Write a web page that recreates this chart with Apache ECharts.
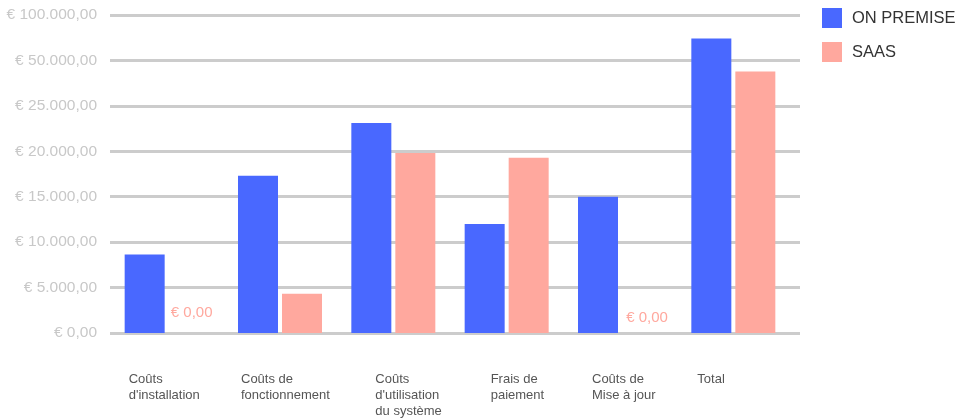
<!DOCTYPE html>
<html><head><meta charset="utf-8">
<script src="https://cdn.jsdelivr.net/npm/echarts@6/dist/echarts.min.js"></script>
<style>html,body{margin:0;padding:0;background:#fff}#c{width:969px;height:418px}</style>
</head><body><div id="c"></div>
<script>
var categories = ["Coûts\nd'installation", "Coûts de\nfonctionnement", "Coûts\nd'utilisation\ndu système", "Frais de\npaiement", "Coûts de\nMise à jour", "Total"];
var onPremise = [8650, 17300, 23100, 12000, 15000, 74000];
var saas = [0, 4330, 19800, 19300, 0, 43900];
var tickValues = [0, 5000, 10000, 15000, 20000, 25000, 50000, 100000];
var tickLabels = ["€ 0,00", "€ 5.000,00", "€ 10.000,00", "€ 15.000,00", "€ 20.000,00", "€ 25.000,00", "€ 50.000,00", "€ 100.000,00"];
var seriesNames = ["ON PREMISE", "SAAS"];

// piecewise scale: the axis places the listed tick values evenly
function toAxis(v) {
  for (var i = 1; i < tickValues.length; i++) {
    if (v <= tickValues[i]) return (i - 1) + (v - tickValues[i - 1]) / (tickValues[i] - tickValues[i - 1]);
  }
  return tickValues.length - 1;
}
function fmtEuro(v) {
  var s = v.toFixed(2).split('.');
  return '€ ' + s[0].replace(/\B(?=(\d{3})+(?!\d))/g, '.') + ',' + s[1];
}
var zeroLabelOffsets = [[3, 0], [0, 0], [0, 0], [0, 0], [5, 5], [0, 0]];
function build(arr) {
  return arr.map(function (v, i) {
    var item = { value: toAxis(v), raw: v };
    if (v === 0) item.label = { show: true, position: 'top', distance: 13, offset: zeroLabelOffsets[i], formatter: fmtEuro(v), color: '#FFA89E', fontSize: 15 };
    return item;
  });
}
var labelPad = [4, 3, 24, 26, 14, 6];
var rich = {};
labelPad.forEach(function (p, i) { rich['c' + i] = { padding: [0, 0, 0, p], fontSize: 13, color: '#555', lineHeight: 16, fontFamily: 'Liberation Sans' }; });

var chart = echarts.init(document.getElementById('c'));
chart.setOption({
  animation: false,
  textStyle: { fontFamily: 'Liberation Sans' },
  legend: {
    orient: 'vertical', left: 822, top: 8, padding: 0, itemWidth: 20, itemHeight: 20, itemGap: 14,
    icon: 'rect', textStyle: { fontSize: 16.5, color: '#333', padding: [0, 0, 0, 5] },
    data: seriesNames
  },
  grid: [
    { left: 110, width: 690, top: 15, bottom: 85 },
    { left: 110, width: 680, top: 15, bottom: 85 },
    { left: 68, width: 680, top: 15, bottom: 85 }
  ],
  xAxis: [
    { type: 'category', gridIndex: 0, data: categories, show: false },
    { type: 'category', gridIndex: 1, data: categories, axisLine: { show: false }, axisTick: { show: false }, axisLabel: { show: false } },
    { type: 'category', gridIndex: 2, data: categories, axisLine: { show: false }, axisTick: { show: false },
      axisLabel: { margin: 38, align: 'left', verticalAlign: 'top', interval: 0,
        formatter: function (v, i) { return v.split('\n').map(function (l) { return '{c' + i + '|' + l + '}'; }).join('\n'); },
        rich: rich } }
  ],
  yAxis: [
    { type: 'value', gridIndex: 0, min: 0, max: tickValues.length - 1, interval: 1,
      axisLine: { show: false }, axisTick: { show: false },
      axisLabel: { margin: 13, color: '#c8c8c8', fontSize: 15.5, formatter: function (v) { return tickLabels[Math.round(v)]; } },
      splitLine: { lineStyle: { color: '#cccccc', width: 3 } } },
    { type: 'value', gridIndex: 1, min: 0, max: tickValues.length - 1, interval: 1, show: false },
    { type: 'value', gridIndex: 2, min: 0, max: tickValues.length - 1, interval: 1, show: false }
  ],
  series: [
    { name: seriesNames[0], type: 'bar', xAxisIndex: 1, yAxisIndex: 1, barWidth: 40, barGap: '10%', itemStyle: { color: '#4968FF' }, data: build(onPremise) },
    { name: seriesNames[1], type: 'bar', xAxisIndex: 1, yAxisIndex: 1, barWidth: 40, barGap: '10%', itemStyle: { color: '#FFA89E' }, data: build(saas) }
  ]
});
</script></body></html>
